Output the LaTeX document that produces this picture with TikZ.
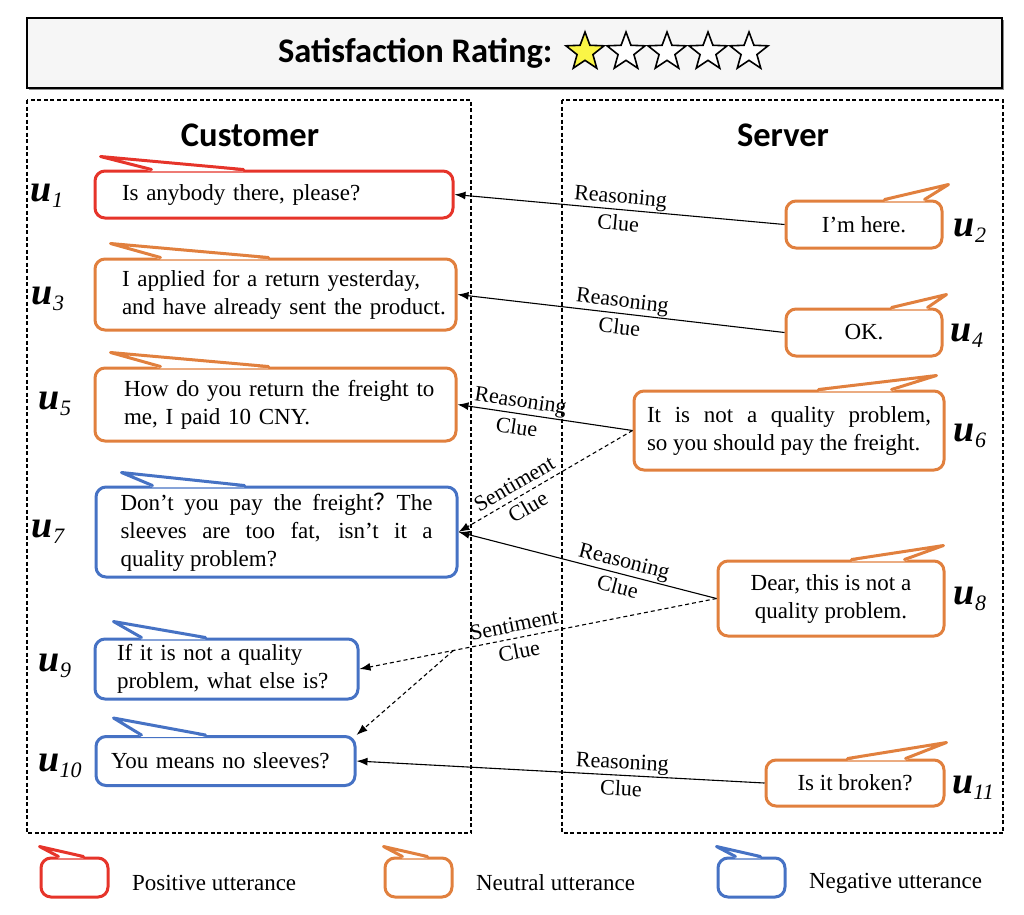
\documentclass[tikz,border=0pt]{standalone}
\usepackage{fontspec}
\setmainfont{Liberation Serif}
\newfontfamily\headfont{Carlito}
\newfontfamily\cjk{Noto Sans CJK SC}
\usetikzlibrary{calc,arrows.meta,shapes.geometric}

\definecolor{posred}{RGB}{230,52,42}
\definecolor{neuorange}{RGB}{225,128,62}
\definecolor{negblue}{RGB}{70,114,196}
\definecolor{staryellow}{RGB}{250,245,70}
\definecolor{titlegray}{RGB}{246,246,246}

\tikzset{
  bubble/.style={draw=#1, line width=3pt, rounded corners=10pt, fill=white,
    inner sep=0pt, font=\fontsize{23}{28}\selectfont},
  clue/.style={font=\fontsize{22}{27}\selectfont, align=center, sloped, inner sep=1pt},
  reason/.style={-{Latex[length=11pt,width=8pt]}, line width=1.1pt},
  senti/.style={reason, dash pattern=on 4pt off 3pt},
  side/.style={draw, line width=1.4pt, dash pattern=on 4pt off 2.5pt},
  head/.style={font=\fontsize{34.5}{40}\selectfont\headfont\bfseries},
  legtext/.style={anchor=west, font=\fontsize{23}{28}\selectfont},
}

% tail of a bubble: colour, corner, first base offset, tip offset, second base offset
\newcommand{\bubtail}[5]{%
  \fill[white] ($#2+(#3,1.8)$) -- ($#2+#4$) -- ($#2+(#5,1.8)$) -- cycle;
  \draw[#1, line width=3pt, line cap=round, line join=round]
    ($#2+(#3,0)$) -- ($#2+#4$) -- ($#2+(#5,0)$);
}
% utterance label
\newcommand{\ulab}[1]{{\fontsize{38}{38}\selectfont\bfseries\itshape u}%
  \raisebox{-6pt}{\fontsize{22}{22}\selectfont\itshape #1}}

\begin{document}
\begin{tikzpicture}[x=1pt, y=-1pt]
  \useasboundingbox (0,0) rectangle (1024,914);

  % rating bar
  \fill[black!45] (29,20) rectangle (1004,90);
  \node[draw, line width=2pt, fill=titlegray, minimum width=975pt, minimum height=70pt] (ratebox) at (514.5,53) {};
  \node[head, anchor=east] (rating) at (556,53) {Satisfaction Rating:};
  \foreach \i/\c in {1/staryellow,2/white,3/white,4/white,5/white}
    \node[star, star points=5, star point ratio=2.4, minimum size=40pt, inner sep=0pt,
      draw, line width=1.6pt, fill=\c] (star\i) at ({585+41*(\i-1)},52) {};

  % the two sides
  \draw[side] (27,100) rectangle (471,833);
  \draw[side] (562,100) rectangle (1003,833);
  \node[head] (cust) at (250,135) {Customer};
  \node[head] (serv) at (783,135) {Server};

  % customer utterances
  \node[bubble=posred, minimum width=358pt, minimum height=47pt, text width=304pt, align=left] (u1) at (274,194.5) {Is anybody there, please?};
  \bubtail{posred}{(u1.north west)}{58}{(7,-13)}{150}
  \node[bubble=neuorange, minimum width=361pt, minimum height=71pt, text width=307pt, align=left] (u3) at (275.5,294.5)
    {\mbox{I applied for a return yesterday,}\\\mbox{and have already sent the product.}};
  \bubtail{neuorange}{(u3.north west)}{67}{(17,-14)}{175}
  \node[bubble=neuorange, minimum width=361pt, minimum height=73pt, text width=303pt, align=left] (u5) at (275.5,404.5)
    {\mbox{How do you return the freight to}\\\mbox{me, I paid 10 CNY.}};
  \bubtail{neuorange}{(u5.north west)}{67}{(17,-14)}{175}
  \node[bubble=negblue, minimum width=361pt, minimum height=90pt, text width=312pt, align=justify] (u7) at (276.5,532)
    {Don’t you pay the freight{\cjk ？}The\linebreak sleeves are too fat, isn’t it a\linebreak quality problem?};
  \bubtail{negblue}{(u7.north west)}{58}{(27,-13)}{150}
  \node[bubble=negblue, minimum width=263pt, minimum height=60pt, text width=219pt, align=left] (u9) at (226.5,669)
    {\mbox{If it is not a quality}\\\mbox{problem, what else is?}};
  \bubtail{negblue}{(u9.north west)}{48}{(20,-16)}{112}
  \node[bubble=negblue, minimum width=259pt, minimum height=49pt, text width=229pt, align=left] (u10) at (225.5,761)
    {You means no sleeves?};
  \bubtail{negblue}{(u10.north west)}{47}{(19,-17)}{111}

  % server utterances
  \node[bubble=neuorange, minimum width=156pt, minimum height=47pt, align=center] (u2) at (864,224.5) {I’m here.};
  \bubtail{neuorange}{(u2.north east)}{-19}{(5,-15)}{-59}
  \node[bubble=neuorange, minimum width=156pt, minimum height=47pt, align=center] (u4) at (864,332.5) {OK.};
  \bubtail{neuorange}{(u4.north east)}{-16}{(3,-13)}{-52}
  \node[bubble=neuorange, minimum width=310pt, minimum height=79pt, text width=284pt, align=justify] (u6) at (789,430.5)
    {It is not a quality problem,\linebreak so you should pay the freight.};
  \bubtail{neuorange}{(u6.north east)}{-54}{(-9,-14)}{-127}
  \node[bubble=neuorange, minimum width=226pt, minimum height=75pt, align=center] (u8) at (831,598.5)
    {Dear, this is not a\\quality problem.};
  \bubtail{neuorange}{(u8.north east)}{-41}{(-2,-14)}{-94}
  \node[bubble=neuorange, minimum width=178pt, minimum height=46pt, align=center] (u11) at (855,783) {Is it broken?};
  \bubtail{neuorange}{(u11.north east)}{-40}{(1,-16)}{-98}

  % utterance labels
  \foreach \n/\x/\y in {1/47/196, 3/48/299, 5/55/404, 7/48/532, 9/55/666, 10/60/766,
                        2/970/231, 4/967/336, 6/970/436, 8/970/599, 11/973/788}
    \node[inner sep=0pt] (lab\n) at (\x,\y) {\ulab{\n}};

  % clues
  \draw[reason] (u2.west) -- node[clue] {Reasoning\\Clue} (u1.east);
  \draw[reason] (u4.west) -- node[clue] {Reasoning\\Clue} (u3.east);
  \draw[reason] (u6.west) -- node[clue, pos=0.65] {Reasoning\\Clue} (u5.east);
  \draw[senti] (u6.west) -- node[clue, pos=0.64] {Sentiment\\Clue} (u7.east);
  \draw[reason] (u8.west) -- node[clue, pos=0.37] {Reasoning\\Clue} (u7.east);
  \draw[senti] (u8.west) -- node[clue, pos=0.56] {Sentiment\\Clue} (u9.east);
  \coordinate (fork) at ($(u8.west)!0.737!(u9.east)$);
  \draw[senti] (fork) -- (u10.north east);
  \draw[reason] (u11.west) -- node[clue, pos=0.35] {Reasoning\\Clue} (u10.east);

  % legend
  \foreach \k/\c/\x/\t in {pos/posred/74.5/Positive utterance,
                           neu/neuorange/418.5/Neutral utterance,
                           neg/negblue/751.5/Negative utterance} {
    \node[bubble=\c, minimum width=67pt, minimum height=39pt] (leg\k) at (\x,877.5) {};
    \bubtail{\c}{(leg\k.north west)}{19}{(0,-10)}{44}
    \node[legtext] (leg\k txt) at (\x+54,883) {\t};
  }
\end{tikzpicture}
\end{document}
